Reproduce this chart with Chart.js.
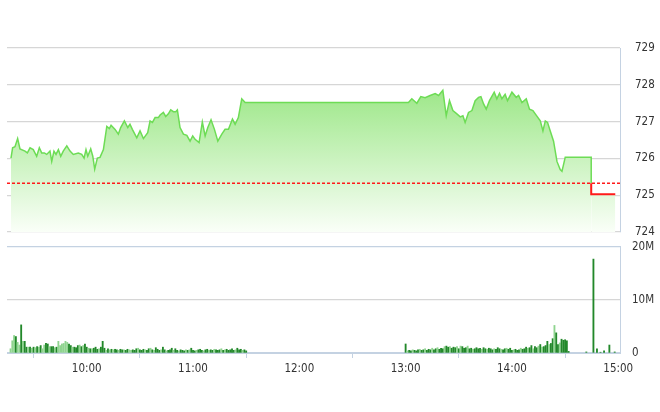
<!DOCTYPE html>
<html>
<head>
<meta charset="utf-8">
<script src="https://cdn.jsdelivr.net/npm/chart.js@4.4.0/dist/chart.umd.min.js"></script>
<style>
html,body{margin:0;padding:0;background:#fff;}
#wrap{position:relative;width:660px;height:412px;overflow:hidden;}
#price{position:absolute;left:0;top:0;}
#vol{position:absolute;left:0;top:228px;}
</style>
</head>
<body>
<div id="wrap">
<canvas id="price" width="660" height="254"></canvas>
<canvas id="vol" width="660" height="184"></canvas>
</div>
<script>
// reference (previous close) and price ticks
const refPrice = 725.33;
const priceTicks = [724, 725, 726, 727, 728, 729];
const volTicks = [0, 10, 20];
const hourLabels = ['10:00', '11:00', '12:00', '13:00', '14:00', '15:00'];

const priceTimes = [
  '09:17:15','09:18:10','09:19:30','09:21:00','09:22:20','09:25:10','09:26:30','09:28:00','09:29:50','09:31:45',
  '09:33:15','09:34:35','09:36:05','09:37:25','09:39:15','09:40:15','09:41:30','09:42:40','09:44:00','09:45:20',
  '09:46:45','09:48:45','09:50:35','09:52:25','09:55:15','09:57:10','09:58:30','09:59:35','10:00:35','10:02:15',
  '10:03:25','10:04:30','10:06:00','10:07:30','10:09:25','10:11:20','10:12:45','10:13:45','10:16:00','10:17:50',
  '10:19:10','10:21:15','10:23:10','10:24:25','10:25:45','10:28:15','10:30:05','10:32:00','10:34:25','10:35:45',
  '10:37:05','10:38:35','10:40:25','10:41:25','10:43:15','10:44:35','10:46:05','10:47:25','10:48:55','10:50:15',
  '10:51:10','10:52:40','10:54:35','10:56:30','10:58:20','10:59:50','11:01:10','11:03:25','11:05:15','11:06:50',
  '11:08:20','11:10:10','11:12:05','11:14:00','11:16:15','11:18:05','11:20:00','11:22:15','11:23:45','11:25:35',
  '11:27:30','11:29:25','11:30:00','13:00:00','13:01:35','13:03:30','13:06:20','13:08:35','13:11:00','13:13:50',
  '13:16:40','13:18:35','13:21:00','13:22:55','13:24:45','13:26:40','13:28:55','13:30:50','13:32:20','13:33:35',
  '13:35:30','13:37:25','13:39:15','13:41:10','13:42:30','13:44:00','13:45:30','13:47:20','13:50:00','13:51:30',
  '13:53:00','13:54:20','13:56:10','13:57:30','14:00:00','14:02:25','14:03:45','14:05:40','14:08:05','14:09:55',
  '14:11:50','14:13:10','14:16:00','14:17:30','14:18:50','14:20:05','14:21:35','14:23:30','14:25:25','14:27:15',
  '14:28:15','14:30:05','14:44:45','14:44:45','14:44:45','14:58:20'
];
const prices = [
  726.01,726.29,726.32,726.54,726.26,726.20,726.15,726.29,726.24,726.06,
  726.29,726.15,726.15,726.11,726.20,725.92,726.20,726.11,726.24,726.06,
  726.20,726.34,726.20,726.11,726.15,726.11,726.01,726.24,726.06,726.26,
  726.06,725.71,726.01,726.03,726.24,726.87,726.81,726.90,726.79,726.66,
  726.84,727.02,726.84,726.93,726.79,726.56,726.75,726.54,726.70,727.02,
  726.98,727.11,727.11,727.18,727.25,727.14,727.21,727.32,727.27,727.27,
  727.32,726.84,726.66,726.63,726.47,726.61,726.52,726.43,726.99,726.61,
  726.84,727.05,726.79,726.47,726.66,726.79,726.79,727.07,726.93,727.11,
  727.62,727.52,727.52,727.52,727.52,727.62,727.50,727.68,727.65,727.71,
  727.76,727.71,727.85,727.16,727.57,727.30,727.21,727.13,727.16,726.98,
  727.25,727.30,727.57,727.66,727.68,727.48,727.34,727.57,727.80,727.62,
  727.77,727.62,727.74,727.57,727.80,727.66,727.71,727.52,727.62,727.34,
  727.30,727.21,727.02,726.75,727.02,726.98,726.75,726.47,725.92,725.70,
  725.65,726.03,726.03,725.33,725.03,725.03
];

// volume, millions of shares, one bar per minute
const amStart = '09:17';
const amVolume = [
  0.8,2.3,3.3,3.1,2.0,1.5,5.3,2.2,2.2,1.1,
  1.1,1.1,0.9,1.1,1.0,1.2,1.1,1.4,0.8,1.5,
  1.8,1.7,1.2,1.2,1.2,1.0,1.1,2.2,1.4,1.7,
  1.8,2.2,2.0,1.7,1.4,1.1,1.1,1.0,1.4,1.5,
  1.2,1.4,1.7,1.1,0.9,0.8,0.8,0.9,1.1,0.7,
  0.8,1.1,2.2,0.9,0.5,0.8,0.6,0.7,0.6,0.7,
  0.6,0.5,0.7,0.6,0.6,0.5,0.7,0.6,0.5,0.6,
  0.5,0.8,0.9,0.6,0.5,0.7,0.6,0.5,0.8,0.9,
  0.6,0.5,1.0,0.7,0.5,0.6,1.1,0.6,0.4,0.5,
  0.6,0.9,0.5,0.8,0.5,0.4,0.6,0.5,0.4,0.6,
  0.5,0.6,0.9,0.5,0.4,0.5,0.6,0.7,0.5,0.4,
  0.6,0.7,0.5,0.6,0.5,0.7,0.6,0.5,0.6,0.8,
  0.5,0.6,0.7,0.5,0.6,0.8,0.5,0.6,0.9,0.6,
  0.7,0.5,0.6,0.4
];
const amSide = 'llldlldldd' + 'ldldldldll' + 'ddlddldlll' + 'lllddldddl' + 'dlddldlddd' + 'ldddldldld' + 'dlddlddlld' +
  'ddldddlddl' + 'dldddlddld' + 'ddlddldddl' + 'dldddldddl' + 'ddlddldddl' + 'dldddddldd' + 'dldd';

const pmStart = '13:00';
const pmVolume = [
  1.7,0.4,0.5,0.4,0.6,0.5,0.4,0.6,0.7,0.5,
  0.6,0.8,0.5,0.7,0.6,0.9,0.6,0.8,1.0,0.7,
  0.9,0.8,1.2,1.3,1.1,1.2,0.9,1.1,1.0,1.2,
  0.8,1.3,1.2,0.9,1.0,1.3,0.8,0.9,0.7,0.8,
  1.0,0.8,0.9,0.7,1.0,0.8,0.7,0.9,0.8,0.6,
  0.8,0.7,1.0,0.8,0.7,0.6,0.8,0.9,0.7,0.9,
  0.5,0.6,0.7,0.5,0.6,0.9,0.7,0.8,1.1,0.9,
  1.0,1.4,0.8,1.2,1.0,1.3,1.6,1.1,1.2,1.4,
  2.2,1.6,1.8,2.7,5.2,3.8,1.6,1.9,2.6,2.4,
  2.5,2.3,0.3
];
const pmSide = 'dlddldddld' + 'dldddlddld' + 'ddlddldddl' + 'dldddlddld' + 'dddlddlddd' + 'ldddlddldd' +
  'dldddldddl' + 'ddlddldldd' + 'dlddlddldd' + 'ddd';

const lateTimes = ['14:42', '14:46', '14:48', '14:50', '14:52', '14:55', '14:58'];
const lateVolume = [0.2, 17.7, 0.8, 0.15, 0.4, 1.5, 0.2];

const toMin = (s) => {
  const p = s.split(':').map(Number);
  return p[0] * 60 + p[1] + (p[2] || 0) / 60;
};
const fmtMin = (m) => {
  const h = Math.floor(m / 60), mm = Math.round(m % 60);
  return String(h).padStart(2, '0') + ':' + String(mm).padStart(2, '0');
};

const X_MIN = toMin('09:15'), X_MAX = toMin('15:00') + 1;
const GREEN = '#6ddc55', RED = '#ff1a1a';
const DARK = '#22882a', LIGHT = '#8fd48f';
const GRID = '#d6d6d6', EDGE = '#c4d2e2';

Chart.defaults.font.family = "'Liberation Sans Narrow', 'DejaVu Sans Condensed', 'Liberation Sans', sans-serif";
Chart.defaults.font.size = 11.5;
Chart.defaults.color = '#333';

const pricePts = priceTimes.map((t, i) => ({x: toMin(t), y: prices[i]}));

let fillGrad = null;
function getFill(ctx) {
  const area = ctx.chart.chartArea;
  if (!area) return 'rgba(140,228,115,0.5)';
  if (!fillGrad) {
    fillGrad = ctx.chart.ctx.createLinearGradient(0, area.top, 0, area.bottom);
    fillGrad.addColorStop(0, 'rgba(130,224,104,1)');
    fillGrad.addColorStop(1, 'rgba(250,255,248,1)');
  }
  return fillGrad;
}

new Chart(document.getElementById('price'), {
  type: 'line',
  data: {
    datasets: [{
      data: [{x: X_MIN, y: refPrice}, {x: X_MAX, y: refPrice}],
      borderColor: RED,
      borderWidth: 1.5,
      borderDash: [3, 2],
      pointRadius: 0,
      fill: false,
      order: 0
    }, {
      data: pricePts,
      borderColor: GREEN,
      borderWidth: 1.5,
      backgroundColor: getFill,
      fill: 'start',
      pointRadius: 0,
      tension: 0,
      order: 1,
      segment: {
        borderColor: (c) => c.p1.parsed.y < refPrice - 0.001 ? RED : undefined,
        borderWidth: (c) => c.p1.parsed.y < refPrice - 0.001 ? 2 : undefined
      }
    }]
  },
  options: {
    responsive: false,
    animation: false,
    layout: {padding: {left: 7, top: 48, right: 0, bottom: 10}},
    plugins: {legend: {display: false}, tooltip: {enabled: false}},
    scales: {
      x: {type: 'linear', min: X_MIN, max: X_MAX, display: false},
      y: {
        position: 'right',
        min: priceTicks[0],
        max: priceTicks[priceTicks.length - 1],
        afterFit: (s) => { s.width = 40; },
        afterBuildTicks: (s) => { s.ticks = priceTicks.map(v => ({value: v})); },
        ticks: {padding: 15, callback: (v) => String(v)},
        grid: {color: GRID, lineWidth: 1.3, drawTicks: false},
        border: {display: true, color: EDGE}
      }
    }
  }
});

// volume bars
const volPts = [], volColors = [];
amVolume.forEach((v, i) => {
  volPts.push({x: toMin(amStart) + i, y: v});
  volColors.push(amSide[i] === 'l' ? LIGHT : DARK);
});
pmVolume.forEach((v, i) => {
  volPts.push({x: toMin(pmStart) + i, y: v});
  volColors.push(pmSide[i] === 'l' ? LIGHT : DARK);
});
lateTimes.forEach((t, i) => {
  volPts.push({x: toMin(t), y: lateVolume[i]});
  volColors.push(DARK);
});

new Chart(document.getElementById('vol'), {
  type: 'bar',
  data: {
    datasets: [{
      data: volPts,
      backgroundColor: volColors,
      barThickness: 1.2,
      borderWidth: 0
    }]
  },
  options: {
    responsive: false,
    animation: false,
    layout: {padding: {left: 7, top: 6, right: 0, bottom: 0}},
    plugins: {legend: {display: false}, tooltip: {enabled: false}},
    scales: {
      x: {
        type: 'linear',
        min: X_MIN,
        max: X_MAX,
        offset: false,
        afterFit: (s) => { s.height = 59; },
        afterBuildTicks: (s) => { s.ticks = hourLabels.map(h => ({value: toMin(h)})); },
        ticks: {padding: 4, maxRotation: 0, autoSkip: false, callback: (v) => fmtMin(v)},
        grid: {drawOnChartArea: false, tickLength: 5, color: EDGE},
        border: {display: true, color: EDGE}
      },
      y: {
        position: 'right',
        min: 0,
        max: 20,
        afterFit: (s) => { s.width = 40; },
        afterBuildTicks: (s) => { s.ticks = volTicks.map(v => ({value: v})); },
        ticks: {padding: 12, callback: (v) => v === 0 ? '0' : v + 'M'},
        grid: {color: (c) => c.tick && c.tick.value === 10 ? GRID : EDGE, lineWidth: 1.3, drawTicks: false},
        border: {display: true, color: EDGE}
      }
    }
  }
});
</script>
</body>
</html>
